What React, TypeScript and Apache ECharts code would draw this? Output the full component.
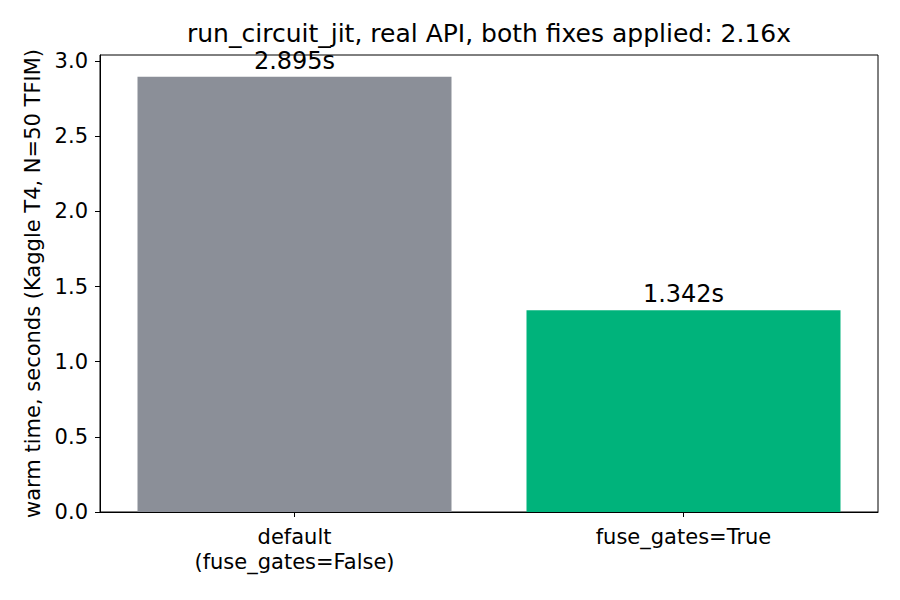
import React, { useEffect, useRef } from 'react';
import * as echarts from 'echarts';

const categories = ['default\n(fuse_gates=False)', 'fuse_gates=True'];
const warmTimes = [2.895, 1.342];
const barColors = ['#8b8f98', '#00b37b'];
const titleText = 'run_circuit_jit, real API, both fixes applied: 2.16x';
const yAxisName = 'warm time, seconds (Kaggle T4, N=50 TFIM)';

const FONT = '"DejaVu Sans", sans-serif';

const App: React.FC = () => {
  const chartRef = useRef<HTMLDivElement>(null);

  useEffect(() => {
    if (!chartRef.current) return;
    const chart = echarts.init(chartRef.current, undefined, { renderer: 'svg' });

    const option = {
      animation: false,
      backgroundColor: '#fff',
      title: {
        text: titleText,
        left: 187,
        top: 21,
        padding: 0,
        textStyle: { fontFamily: FONT, fontSize: 25, fontWeight: 'normal', color: '#000' },
      },
      grid: {
        left: 100,
        right: 22,
        top: 55,
        bottom: 88,
        show: true,
        borderColor: '#000',
        borderWidth: 1,
      },
      xAxis: {
        type: 'category',
        data: categories,
        axisLine: { show: true, lineStyle: { color: '#000', width: 1 } },
        axisTick: { show: true, alignWithLabel: true, length: 5, lineStyle: { color: '#000' } },
        axisLabel: {
          margin: 12,
          fontFamily: FONT,
          fontSize: 21,
          lineHeight: 25,
          color: '#000',
        },
        splitLine: { show: false },
      },
      yAxis: {
        type: 'value',
        min: 0,
        max: 3.04,
        interval: 0.5,
        name: yAxisName,
        nameLocation: 'middle',
        nameGap: 56,
        nameTextStyle: { fontFamily: FONT, fontSize: 21, color: '#000' },
        axisLine: { show: true, lineStyle: { color: '#000', width: 1 } },
        axisTick: { show: true, length: 5, lineStyle: { color: '#000' } },
        axisLabel: {
          margin: 12,
          fontFamily: FONT,
          fontSize: 21,
          color: '#000',
          formatter: (v: number) => v.toFixed(1),
          showMaxLabel: false,
        },
        splitLine: { show: false },
      },
      series: [
        {
          type: 'bar',
          barWidth: 314,
          data: warmTimes.map((v, i) => ({ value: v, itemStyle: { color: barColors[i] } })),
          label: {
            show: true,
            position: 'top',
            distance: 4,
            fontFamily: FONT,
            fontSize: 24,
            color: '#000',
            formatter: (p: any) => `${p.value.toFixed(3)}s`,
          },
        },
      ],
    };

    chart.setOption(option);
    return () => {
      chart.dispose();
    };
  }, []);

  return <div ref={chartRef} style={{ width: 900, height: 600, margin: -8 }} />;
};

export default App;
